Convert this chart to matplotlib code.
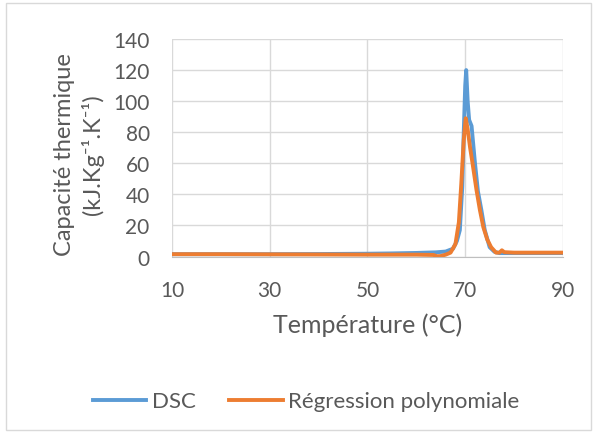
import matplotlib.pyplot as plt
from matplotlib.patches import Rectangle

plt.rcParams['font.family'] = ['Lato', 'DejaVu Sans']

# DSC measurement (temperature in °C, heat capacity)
T_dsc = [10, 20, 30, 40, 50, 55, 60, 64, 66, 67.5, 68.3, 68.9, 69.4, 69.7, 70.0, 70.2,
         70.5, 70.8, 71.3, 72.0, 72.6, 73.3, 74.0, 75.0, 76.0, 77.0, 80, 85, 90]
Cp_dsc = [1.5, 1.5, 1.5, 1.6, 1.8, 2.0, 2.3, 2.7, 3.2, 5, 10, 17, 45, 80, 110, 120,
          100, 88, 84, 60, 42, 30, 17, 6, 3, 2.2, 2.2, 2.2, 2.2]

# polynomial regression
T_reg = [10, 20, 30, 40, 50, 60, 63.5, 64.2, 65, 66, 67, 68, 68.7, 69.2, 69.7, 70.1,
         70.5, 71.0, 71.5, 72.3, 73.0, 73.7, 74.5, 75.3, 76.3, 77.0, 77.5, 78, 80, 90]
Cp_reg = [1.5, 1.5, 1.4, 1.3, 1.2, 1.2, 1.0, 0.2, 0.3, 1.2, 2.5, 8, 22, 47, 75, 89,
          82, 70, 60, 43, 30, 19, 11, 6, 2.5, 2.5, 4, 2.8, 2.5, 2.5]

xticks = [10, 30, 50, 70, 90]
yticks = [0, 20, 40, 60, 80, 100, 120, 140]

txt = '#595959'
grid = '#D9D9D9'

fig = plt.figure(figsize=(5.97, 4.35), dpi=100)
fig.patches.append(Rectangle((0.01, 0.01), 0.98, 0.98, transform=fig.transFigure,
                             fill=False, edgecolor=grid, linewidth=1))
ax = fig.add_axes([0.288, 0.408, 0.655, 0.500])

ax.plot(T_dsc, Cp_dsc, color='#5B9BD5', linewidth=2.8, label='DSC', solid_joinstyle='round')
ax.plot(T_reg, Cp_reg, color='#ED7D31', linewidth=2.8, label='Régression polynomiale',
        solid_joinstyle='round')

ax.set_xlim(10, 90)
ax.set_ylim(0, 140)
ax.set_xticks(xticks)
ax.set_yticks(yticks)
ax.grid(True, color=grid, linewidth=1)
ax.set_axisbelow(True)
for s in ['top', 'right', 'left']:
    ax.spines[s].set_visible(False)
ax.spines['bottom'].set_color('#BFBFBF')
ax.tick_params(length=0, labelsize=15, colors=txt)
ax.tick_params(axis='y', pad=16)
ax.tick_params(axis='x', pad=17)

ax.set_xlabel('Température (°C)', fontsize=18, color=txt)
ax.xaxis.set_label_coords(0.5, -0.255)
ax.set_ylabel('Capacité thermique\n(kJ.Kg⁻¹.K⁻¹)', fontsize=17, color=txt,
              linespacing=1.3)
ax.yaxis.set_label_coords(-0.175, 0.475)

fig.legend(loc='center', bbox_to_anchor=(0.513, 0.075), ncol=2, frameon=False,
           fontsize=16, labelcolor=txt, handlelength=2.4, columnspacing=1.5,
           handletextpad=0.25)

fig.savefig('out.png', dpi=100)
